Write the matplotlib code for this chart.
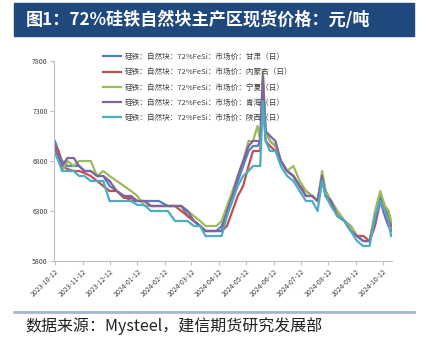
import matplotlib
matplotlib.use("Agg")
import matplotlib.pyplot as plt
import matplotlib.dates as mdates
from matplotlib.patches import Rectangle
from matplotlib.lines import Line2D
import pandas as pd

plt.rcParams['font.family'] = ['Noto Sans CJK SC', 'DejaVu Sans']

# 日期（不等间隔采样）
dates = pd.to_datetime([
    "2023-10-12", "2023-10-16", "2023-10-20", "2023-10-26", "2023-11-02", "2023-11-08",
    "2023-11-14", "2023-11-21", "2023-11-28", "2023-12-05", "2023-12-12", "2023-12-20",
    "2023-12-28", "2024-01-05", "2024-01-12", "2024-01-20", "2024-01-27", "2024-02-05",
    "2024-02-15", "2024-02-23", "2024-03-01", "2024-03-08", "2024-03-15", "2024-03-22",
    "2024-03-28", "2024-04-03", "2024-04-09", "2024-04-15", "2024-04-21", "2024-04-27",
    "2024-05-03", "2024-05-09", "2024-05-15", "2024-05-20", "2024-05-25", "2024-05-28",
    "2024-05-31", "2024-06-03", "2024-06-08", "2024-06-14", "2024-06-20", "2024-06-27",
    "2024-07-04", "2024-07-11", "2024-07-18", "2024-07-25", "2024-07-31", "2024-08-05",
    "2024-08-09", "2024-08-15", "2024-08-22", "2024-08-30", "2024-09-06", "2024-09-13",
    "2024-09-20", "2024-09-27", "2024-10-03", "2024-10-09", "2024-10-14", "2024-10-18",
    "2024-10-21",
])

gansu = [7000, 6900, 6800, 6750, 6750, 6750, 6700, 6700, 6650, 6650, 6550, 6500,
         6450, 6400, 6400, 6400, 6400, 6400, 6350, 6350, 6350, 6250, 6200, 6150,
         6100, 6100, 6100, 6150, 6300, 6450, 6600, 6750, 6900, 6950, 6950, 7000,
         7600, 7100, 7000, 6950, 6800, 6700, 6650, 6550, 6450, 6450, 6400, 6650,
         6450, 6400, 6250, 6200, 6150, 6050, 6000, 6000, 6250, 6450, 6350, 6250,
         6100]
neimenggu = [6950, 6900, 6750, 6720, 6700, 6700, 6680, 6650, 6600, 6550, 6500, 6500,
             6430, 6430, 6400, 6400, 6350, 6350, 6350, 6350, 6300, 6250, 6200, 6150,
             6100, 6100, 6100, 6100, 6150, 6300, 6450, 6550, 6750, 6900, 6900, 6900,
             7500, 7000, 6950, 6900, 6800, 6700, 6650, 6550, 6500, 6450, 6400, 6600,
             6500, 6400, 6300, 6200, 6100, 6050, 6050, 6000, 6150, 6400, 6350, 6300,
             6150]
ningxia = [6900, 6850, 6700, 6800, 6750, 6800, 6800, 6800, 6650, 6700, 6650, 6600,
           6550, 6500, 6450, 6350, 6350, 6350, 6350, 6350, 6350, 6300, 6250, 6200,
           6150, 6150, 6150, 6200, 6350, 6500, 6650, 6800, 7000, 7000, 7150, 7000,
           7700, 7100, 7000, 6950, 6800, 6700, 6750, 6600, 6500, 6450, 6400, 6700,
           6500, 6400, 6300, 6200, 6150, 6050, 6000, 6000, 6300, 6500, 6350, 6300,
           6200]
qinghai = [6920, 6850, 6750, 6830, 6830, 6750, 6700, 6700, 6650, 6650, 6600, 6500,
           6450, 6450, 6400, 6400, 6350, 6350, 6350, 6350, 6350, 6300, 6200, 6150,
           6100, 6100, 6100, 6100, 6300, 6450, 6650, 6800, 6950, 7000, 7000, 7000,
           7650, 7100, 7050, 7000, 6800, 6700, 6650, 6550, 6450, 6450, 6400, 6650,
           6450, 6400, 6250, 6200, 6100, 6050, 6000, 6000, 6200, 6400, 6250, 6150,
           6100]
shaanxi = [6880, 6800, 6700, 6700, 6700, 6650, 6650, 6600, 6600, 6600, 6400, 6400,
           6400, 6400, 6360, 6360, 6300, 6300, 6300, 6200, 6200, 6200, 6150, 6150,
           6050, 6050, 6050, 6050, 6250, 6400, 6550, 6650, 6700, 6750, 6750, 6750,
           7400, 7000, 6900, 6900, 6750, 6650, 6600, 6500, 6400, 6400, 6300, 6600,
           6450, 6350, 6250, 6200, 6100, 6000, 5950, 5950, 6250, 6400, 6300, 6200,
           6050]

labels = [
    "硅铁：自然块：72%FeSi：市场价：甘肃（日）",
    "硅铁：自然块：72%FeSi：市场价：内蒙古（日）",
    "硅铁：自然块：72%FeSi：市场价：宁夏（日）",
    "硅铁：自然块：72%FeSi：市场价：青海（日）",
    "硅铁：自然块：72%FeSi：市场价：陕西（日）",
]
colors = ["#4f81bd", "#c0504d", "#9bbb59", "#8064a2", "#4bacc6"]
series = [gansu, neimenggu, ningxia, qinghai, shaanxi]

tick_dates = pd.date_range("2023-10-12", "2024-10-12", freq=pd.DateOffset(months=1))

fig = plt.figure(figsize=(4.31, 3.40), dpi=100)

# 标题栏
fig.patches.append(Rectangle((14 / 431, 1 - 36 / 340), 400 / 431, 33 / 340,
                             transform=fig.transFigure, color="#1f497d", zorder=0))
fig.text(26 / 431, 1 - 20 / 340, "图1：72%硅铁自然块主产区现货价格：元/吨",
         color="white", fontsize=12.3, fontweight="bold", va="center", ha="left")

ax = fig.add_axes([54 / 431, 1 - 261 / 340, 338 / 431, 200 / 340])
for vals, c, lab in zip(series, colors, labels):
    ax.plot(dates, vals, color=c, lw=1.6, label=lab)

ax.set_ylim(5800, 7800)
ax.set_yticks([5800, 6300, 6800, 7300, 7800])
ax.set_xlim(pd.Timestamp("2023-10-11"), pd.Timestamp("2024-10-22"))
ax.set_xticks(tick_dates)
ax.xaxis.set_major_formatter(mdates.DateFormatter("%Y-%m-%d"))
ax.tick_params(axis="both", labelsize=5, colors="#bfbfbf", labelcolor="#404040",
               length=3, width=0.8, pad=1.5)
for lab in ax.get_xticklabels():
    lab.set_rotation(45)
    lab.set_ha("right")
    lab.set_rotation_mode("anchor")
for s in ["top", "right"]:
    ax.spines[s].set_visible(False)
for s in ["left", "bottom"]:
    ax.spines[s].set_color("#bfbfbf")
    ax.spines[s].set_linewidth(0.8)

leg = ax.legend(loc="upper left", bbox_to_anchor=(103 / 431, 1 - 53 / 340),
                bbox_transform=fig.transFigure, frameon=False, fontsize=5.5,
                handlelength=2.4, handletextpad=0.4, labelspacing=0.95,
                borderaxespad=0, borderpad=0)
for t in leg.get_texts():
    t.set_color("#404040")

# 底部来源
fig.add_artist(Line2D([14 / 431, 414 / 431], [1 - 312 / 340, 1 - 312 / 340],
                      transform=fig.transFigure, color="#a6b8d0", lw=2))
fig.text(25 / 431, 1 - 326 / 340, "数据来源：Mysteel，建信期货研究发展部",
         fontsize=11.5, style="italic", color="#222222", va="center", ha="left")

fig.savefig("out.png", dpi=100)
